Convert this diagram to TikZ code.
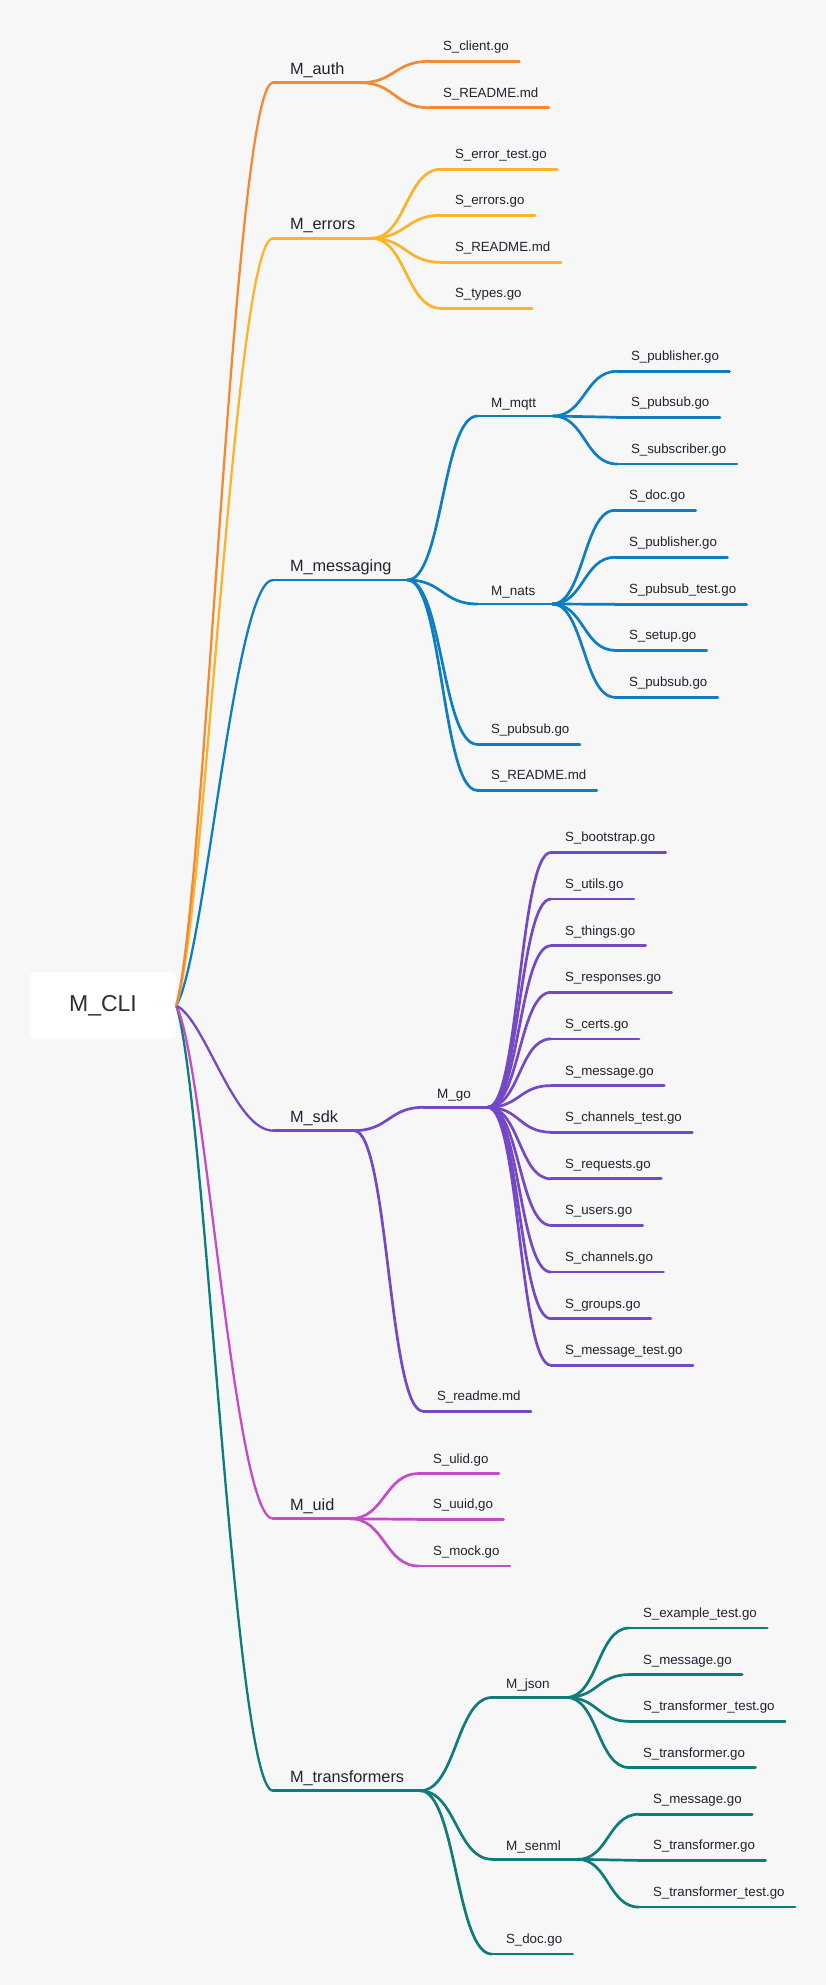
\documentclass[tikz,border=0pt]{standalone}
\usepackage{fontspec}
\setmainfont{Liberation Sans}
\usetikzlibrary{calc}
\definecolor{bgc}{HTML}{F7F7F7}
\definecolor{txt}{HTML}{222230}
\definecolor{rtxt}{HTML}{2E2E36}
\definecolor{corange}{HTML}{F38A33}
\definecolor{cyellow}{HTML}{FDB22B}
\definecolor{cblue}{HTML}{0F7DC2}
\definecolor{cpurple}{HTML}{7448C6}
\definecolor{cmagenta}{HTML}{C44CC8}
\definecolor{cteal}{HTML}{0E7C7B}
\newcommand\fntroot{\fontsize{23}{27}\selectfont}
\newcommand\fntone{\fontsize{16.3}{19}\selectfont}
\newcommand\fnttwo{\fontsize{13.5}{16}\selectfont}
\newcommand\fntleaf{\fontsize{13.3}{16}\selectfont}
\tikzset{
  rootnode/.style={fill=white, rounded corners=5pt, minimum width=146pt, minimum height=67pt, font=\fntroot, text=rtxt, inner sep=0pt},
  lvone/.style={anchor=south west, font=\fntone, text=txt, inner xsep=16pt, inner ysep=8.5pt, text depth=0pt, outer sep=0pt, execute at begin node={\hspace*{1pt}}},
  lvtwo/.style={anchor=south west, font=\fnttwo, text=txt, inner xsep=17pt, inner ysep=8.7pt, text depth=0pt, outer sep=0pt, execute at begin node={\hspace*{-3.5pt}}},
  leaf/.style={anchor=south west, font=\fntleaf, text=txt, inner xsep=10.5pt, inner ysep=10.5pt, text depth=0pt, outer sep=0pt, execute at begin node={\hspace*{3.5pt}}},
  link/.style={line width=2.7pt, line cap=round},
  rlink/.style={line width=2.3pt},
  sline/.style={to path={let \p1=(\tikztostart), \p2=(\tikztotarget) in .. controls ({(\x1+\x2)/2},\y1) and ({(\x1+\x2)/2},\y2) .. (\tikztotarget)}},
  rline/.style={to path={let \p1=(\tikztostart), \p2=(\tikztotarget) in .. controls ({\x1+0.3*(\x2-\x1)},{\y1+0.11*(\y2-\y1)}) and ({\x1+0.6*(\x2-\x1)},\y2) .. (\tikztotarget)}},
}
\begin{document}
\begin{tikzpicture}[x=1pt,y=-1pt]
\fill[bgc] (0,0) rectangle (826,1985);
\useasboundingbox (0,0) rectangle (826,1985);

% root
\node[rootnode] (root) at (103,1005.5) {M\_CLI};

% level 1
\node[lvone] (a) at (273,82.7) {M\_auth};
\node[lvone] (e) at (273,238.3) {M\_errors};
\node[lvone] (m) at (273,580) {M\_messaging};
\node[lvone] (s) at (273,1130.6) {M\_sdk};
\node[lvone] (u) at (273,1518.7) {M\_uid};
\node[lvone] (t) at (273,1790.7) {M\_transformers};

% auth
\node[leaf] (a1) at (429,61.3) {S\_client.go};
\node[leaf] (a2) at (429,107.7) {S\_README.md};
% errors
\node[leaf] (e1) at (441,169.3) {S\_error\_test.go};
\node[leaf] (e2) at (441,215.3) {S\_errors.go};
\node[leaf] (e3) at (441,262.3) {S\_README.md};
\node[leaf] (e4) at (441,308.3) {S\_types.go};
% messaging
\node[lvtwo] (mq) at (477.5,416) {M\_mqtt};
\node[lvtwo] (na) at (477.5,604) {M\_nats};
\node[leaf] (m1) at (477,744.3) {S\_pubsub.go};
\node[leaf] (m2) at (477,790.3) {S\_README.md};
\node[leaf] (q1) at (617,371.3) {S\_publisher.go};
\node[leaf] (q2) at (617,417.3) {S\_pubsub.go};
\node[leaf] (q3) at (617,464) {S\_subscriber.go};
\node[leaf] (n1) at (615,510.3) {S\_doc.go};
\node[leaf] (n2) at (615,557.3) {S\_publisher.go};
\node[leaf] (n3) at (615,604.3) {S\_pubsub\_test.go};
\node[leaf] (n4) at (615,650.3) {S\_setup.go};
\node[leaf] (n5) at (615,697.3) {S\_pubsub.go};
% sdk
\node[lvtwo] (g) at (423.5,1107.3) {M\_go};
\node[leaf] (s1) at (423,1411.2) {S\_readme.md};
\node[leaf] (g1) at (551,852.4) {S\_bootstrap.go};
\node[leaf] (g2) at (551,899.0) {S\_utils.go};
\node[leaf] (g3) at (551,945.7) {S\_things.go};
\node[leaf] (g4) at (551,992.3) {S\_responses.go};
\node[leaf] (g5) at (551,1038.9) {S\_certs.go};
\node[leaf] (g6) at (551,1085.6) {S\_message.go};
\node[leaf] (g7) at (551,1132.2) {S\_channels\_test.go};
\node[leaf] (g8) at (551,1178.8) {S\_requests.go};
\node[leaf] (g9) at (551,1225.4) {S\_users.go};
\node[leaf] (g10) at (551,1272.1) {S\_channels.go};
\node[leaf] (g11) at (551,1318.7) {S\_groups.go};
\node[leaf] (g12) at (551,1365.3) {S\_message\_test.go};
% uid
\node[leaf] (u1) at (419,1473.5) {S\_ulid.go};
\node[leaf] (u2) at (419,1519.4) {S\_uuid,go};
\node[leaf] (u3) at (419,1566) {S\_mock.go};
% transformers
\node[lvtwo] (j) at (492.5,1697.4) {M\_json};
\node[lvtwo] (sn) at (492.5,1859.3) {M\_senml};
\node[leaf] (t1) at (492,1954.1) {S\_doc.go};
\node[leaf] (j1) at (629,1628) {S\_example\_test.go};
\node[leaf] (j2) at (629,1674.6) {S\_message.go};
\node[leaf] (j3) at (629,1721.3) {S\_transformer\_test.go};
\node[leaf] (j4) at (629,1767.5) {S\_transformer.go};
\node[leaf] (sn1) at (639,1814.2) {S\_message.go};
\node[leaf] (sn2) at (639,1860.4) {S\_transformer.go};
\node[leaf] (sn3) at (639,1907.1) {S\_transformer\_test.go};

% root branches
\draw[rlink, cteal] (root.east) to[rline] (t.south west);
\draw[rlink, cmagenta] (root.east) to[rline] (u.south west);
\draw[rlink, cpurple] (root.east) to[rline] (s.south west);
\draw[rlink, cblue] (root.east) to[rline] (m.south west);
\draw[rlink, cyellow] (root.east) to[rline] (e.south west);
\draw[rlink, corange] (root.east) to[rline] (a.south west);

% underlines
\foreach \n in {a,a1,a2} \draw[link, corange] (\n.south west) -- (\n.south east);
\foreach \n in {e,e1,e2,e3,e4} \draw[link, cyellow] (\n.south west) -- (\n.south east);
\foreach \n in {m,mq,na,m1,m2,q1,q2,q3,n1,n2,n3,n4,n5} \draw[link, cblue] (\n.south west) -- (\n.south east);
\foreach \n in {s,g,s1,g1,g2,g3,g4,g5,g6,g7,g8,g9,g10,g11,g12} \draw[link, cpurple] (\n.south west) -- (\n.south east);
\foreach \n in {u,u1,u2,u3} \draw[link, cmagenta] (\n.south west) -- (\n.south east);
\foreach \n in {t,j,sn,t1,j1,j2,j3,j4,sn1,sn2,sn3} \draw[link, cteal] (\n.south west) -- (\n.south east);

% connectors
\foreach \c in {a1,a2} \draw[link, corange] (a.south east) to[sline] (\c.south west);
\foreach \c in {e1,e2,e3,e4} \draw[link, cyellow] (e.south east) to[sline] (\c.south west);
\foreach \c in {mq,na,m1,m2} \draw[link, cblue] (m.south east) to[sline] (\c.south west);
\foreach \c in {q1,q2,q3} \draw[link, cblue] (mq.south east) to[sline] (\c.south west);
\foreach \c in {n1,n2,n3,n4,n5} \draw[link, cblue] (na.south east) to[sline] (\c.south west);
\foreach \c in {g,s1} \draw[link, cpurple] (s.south east) to[sline] (\c.south west);
\foreach \c in {g1,g2,g3,g4,g5,g6,g7,g8,g9,g10,g11,g12} \draw[link, cpurple] (g.south east) to[sline] (\c.south west);
\foreach \c in {u1,u2,u3} \draw[link, cmagenta] (u.south east) to[sline] (\c.south west);
\foreach \c in {j,sn,t1} \draw[link, cteal] (t.south east) to[sline] (\c.south west);
\foreach \c in {j1,j2,j3,j4} \draw[link, cteal] (j.south east) to[sline] (\c.south west);
\foreach \c in {sn1,sn2,sn3} \draw[link, cteal] (sn.south east) to[sline] (\c.south west);
\end{tikzpicture}
\end{document}
